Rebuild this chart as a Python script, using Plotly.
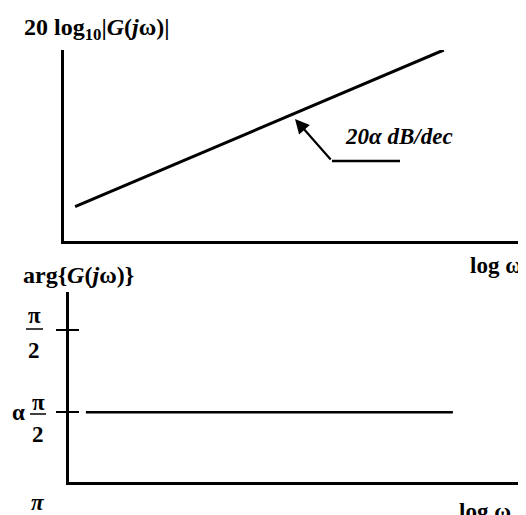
import plotly.graph_objects as go

W, H = 518, 507      # figure size; the page places it 8px from the top-left
OFF = 8

# ---- data (schematic Bode plot of fractional element G(s)=s^alpha) ----
log_omega_mag = [0.24, 8.22]      # log ω (top panel)
magnitude_db = [1.8, 10.0]        # 20 log10|G(jω)|
log_omega_phase = [0.37, 8.40]    # log ω (bottom panel)
phase_rad = [0.72, 0.72]          # arg{G(jω)} = α·π/2 (α ≈ 0.46)
phase_tickvals = [0.72, 1.5708]   # α·π/2 and π/2

FONT = "Liberation Serif"
BLACK = "#000000"


def px(x):
    return (x - OFF) / W


def py(y):
    return 1 - (y - OFF) / H


fig = go.Figure()

fig.add_trace(go.Scatter(x=log_omega_mag, y=magnitude_db, mode="lines",
                         line=dict(color=BLACK, width=3), xaxis="x", yaxis="y",
                         showlegend=False, hoverinfo="skip", cliponaxis=False))
fig.add_trace(go.Scatter(x=log_omega_phase, y=phase_rad, mode="lines",
                         line=dict(color=BLACK, width=2.5), xaxis="x2", yaxis="y2",
                         showlegend=False, hoverinfo="skip"))
# empty trace so the overlaid axis (inner half of the crossing ticks) is drawn
fig.add_trace(go.Scatter(x=[None], y=[None], mode="lines", xaxis="x2", yaxis="y3",
                         showlegend=False, hoverinfo="skip"))

axis_common = dict(showgrid=False, zeroline=False, showline=True,
                   linecolor=BLACK, linewidth=2.5, fixedrange=True)

fig.update_layout(
    width=W, height=H,
    margin=dict(l=0, r=0, t=0, b=0),
    paper_bgcolor="white", plot_bgcolor="white",
    font=dict(family=FONT, color=BLACK, size=22),
    xaxis=dict(domain=[px(64), 1], range=[0, 10], anchor="y",
               showticklabels=False, ticks="", **axis_common),
    yaxis=dict(domain=[py(241), py(50)], range=[0, 10], anchor="x",
               showticklabels=False, ticks="", **axis_common),
    xaxis2=dict(domain=[px(69), 1], range=[0, 10], anchor="y2",
                showticklabels=False, ticks="", **axis_common),
    yaxis2=dict(domain=[py(482), py(292)], range=[0, 1.964], anchor="x2",
                tickvals=phase_tickvals, ticks="outside", ticklen=10,
                tickwidth=2, tickcolor=BLACK, showticklabels=False,
                **axis_common),
    yaxis3=dict(overlaying="y2", anchor="x2", range=[0, 1.964], side="left",
                tickvals=phase_tickvals, ticks="inside", ticklen=10,
                tickwidth=2, tickcolor=BLACK, showticklabels=False,
                showline=False, showgrid=False, zeroline=False, fixedrange=True),
)

ann = []


def text(x, y, s, size=23, xanchor="center"):
    ann.append(dict(x=px(x), y=py(y), xref="paper", yref="paper", text=s,
                    showarrow=False, xanchor=xanchor, yanchor="middle",
                    font=dict(family=FONT, size=size, color=BLACK)))


text(22, 29, "<b>20 log<sub>10</sub>|<i>G</i>(<i>j</i>ω)|</b>", size=24, xanchor="left")
text(21, 275, "<b>arg{<i>G</i>(<i>j</i>ω)}</b>", size=24, xanchor="left")
text(468, 265, "<b>log ω</b>", xanchor="left")
text(457, 511, "<b>log ω</b>", xanchor="left")
text(343, 137, "<b><i>20α dB/dec</i></b>", xanchor="left")
text(34, 315, "<b>π</b>")
text(34, 350, "<b>2</b>")
text(38, 402, "<b>π</b>")
text(38, 434, "<b>2</b>")
text(18, 412, "<b>α</b>")
text(38, 502, "<b><i>π</i></b>")

# arrow pointing to the magnitude slope
ann.append(dict(x=px(295), y=py(119), xref="paper", yref="paper",
                ax=37, ay=42, axref="pixel", ayref="pixel",
                text="", showarrow=True, arrowhead=2, arrowsize=1.3,
                arrowwidth=2.2, arrowcolor=BLACK))
fig.update_layout(annotations=ann)

shapes = [
    dict(type="line", xref="paper", yref="paper", x0=px(332), x1=px(400),
         y0=py(161), y1=py(161), line=dict(color=BLACK, width=2.5)),
    dict(type="line", xref="paper", yref="paper", x0=px(26), x1=px(43),
         y0=py(329), y1=py(329), line=dict(color=BLACK, width=1.5)),
    dict(type="line", xref="paper", yref="paper", x0=px(30), x1=px(46),
         y0=py(414), y1=py(414), line=dict(color=BLACK, width=1.5)),
]
fig.update_layout(shapes=shapes)

fig.write_html("out.html", config={"displayModeBar": False, "responsive": False})
